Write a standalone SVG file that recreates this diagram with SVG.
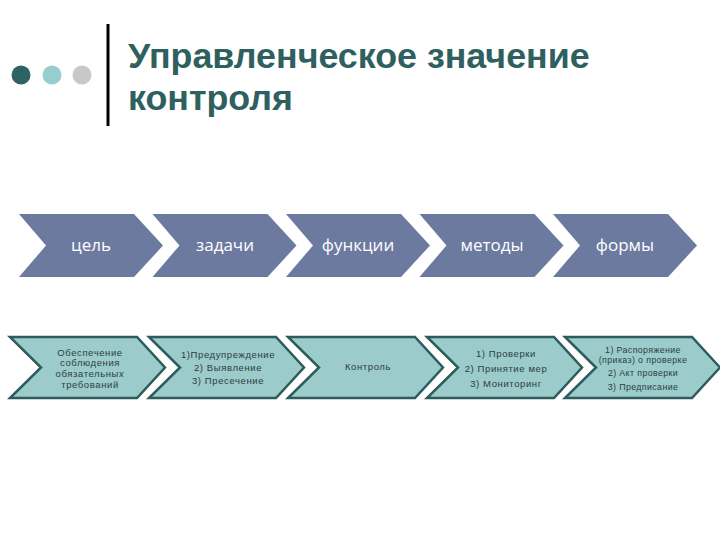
<svg xmlns="http://www.w3.org/2000/svg" width="720" height="540" viewBox="0 0 720 540">
<defs>
<style>
.title{font-family:"Liberation Sans",Arial,sans-serif;font-weight:bold;font-size:35.8px;fill:#2f6060}
.top{fill:#6d7a9f}
.toplbl{font-family:"Open Sans","Noto Sans",sans-serif;font-size:17px;fill:#ffffff;text-anchor:middle}
.bot{fill:#9ccbcb;stroke:#2e5c5c;stroke-width:2.5;stroke-linejoin:miter}
.botlbl{font-family:"Liberation Sans",Arial,sans-serif;font-size:9.5px;fill:#2a4040;text-anchor:middle;letter-spacing:0.6px}
.sm{font-size:8.8px;letter-spacing:0.4px}
</style>
<polygon id="topShape" points="0,0 115,0 144,31.5 115,63 0,63 27,31.5"/>
<polygon id="botShape" points="0,0 127,0 155,30.5 127,61 0,61 31,30.5"/>
</defs>
<rect width="720" height="540" fill="#ffffff"/>
<g id="header">
<circle cx="21" cy="75" r="9.5" fill="#2f6363"/>
<circle cx="52" cy="75" r="9.5" fill="#96cdcd"/>
<circle cx="82" cy="75" r="9.5" fill="#c8c8c8"/>
<rect x="106.5" y="24" width="3" height="102" fill="#000000"/>
<text class="title" x="128" y="68">Управленческое значение</text>
<text class="title" x="128" y="110">контроля</text>
</g>
<g id="connectors"></g>
<g id="top-goal"><use href="#topShape" class="top" x="19" y="214"/><text class="toplbl" x="91" y="251">цель</text></g>
<g id="top-tasks"><use href="#topShape" class="top" x="152.5" y="214"/><text class="toplbl" x="225" y="251">задачи</text></g>
<g id="top-functions"><use href="#topShape" class="top" x="286" y="214"/><text class="toplbl" x="358" y="251">функции</text></g>
<g id="top-methods"><use href="#topShape" class="top" x="419.5" y="214"/><text class="toplbl" x="492" y="251">методы</text></g>
<g id="top-forms"><use href="#topShape" class="top" x="553" y="214"/><text class="toplbl" x="625" y="251">формы</text></g>

<g id="bot-goal"><use href="#botShape" class="bot" x="10" y="337"/>
<text class="botlbl" x="90" y="356">Обеспечение</text>
<text class="botlbl" x="90" y="366">соблюдения</text>
<text class="botlbl" x="90" y="377">обязательных</text>
<text class="botlbl" x="90" y="388">требований</text></g>
<g id="bot-tasks"><use href="#botShape" class="bot" x="149" y="337"/>
<text class="botlbl" x="228" y="358">1)Предупреждение</text>
<text class="botlbl" x="228" y="371">2) Выявление</text>
<text class="botlbl" x="228" y="384">3) Пресечение</text></g>
<g id="bot-functions"><use href="#botShape" class="bot" x="288" y="337"/>
<text class="botlbl" x="368" y="370">Контроль</text></g>
<g id="bot-methods"><use href="#botShape" class="bot" x="427" y="337"/>
<text class="botlbl" x="506" y="357">1) Проверки</text>
<text class="botlbl" x="506" y="372">2) Принятие мер</text>
<text class="botlbl" x="506" y="387">3) Мониторинг</text></g>
<g id="bot-forms"><use href="#botShape" class="bot" x="565" y="337"/>
<text class="botlbl sm" x="643" y="353">1) Распоряжение</text>
<text class="botlbl sm" x="643" y="363">(приказ) о проверке</text>
<text class="botlbl sm" x="643" y="376">2) Акт проверки</text>
<text class="botlbl sm" x="643" y="390">3) Предписание</text></g>
</svg>
